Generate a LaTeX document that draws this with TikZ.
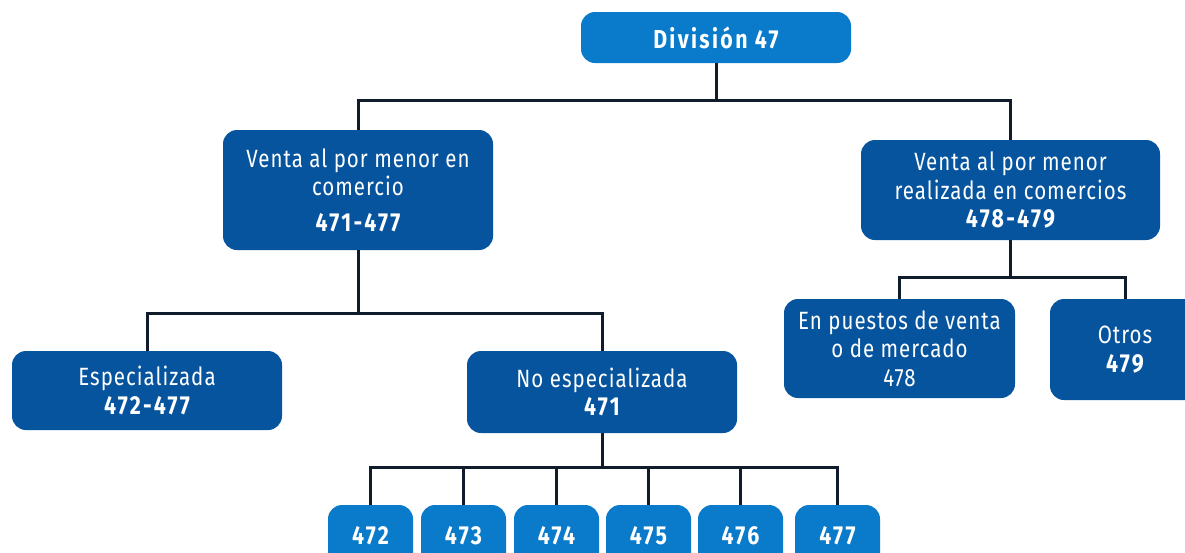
\documentclass[tikz,border=0pt]{standalone}
\usepackage{fontspec}
\setmainfont[FakeStretch=0.82,LetterSpace=4]{Fira Sans}
\newfontfamily\numfont[FakeStretch=0.82,LetterSpace=9]{Fira Sans}
\newcommand\nb[1]{{\numfont\bfseries\fontsize{26}{28}\selectfont #1}}
\definecolor{lblue}{HTML}{0A7ACA}
\definecolor{dblue}{HTML}{06549E}
\definecolor{linec}{HTML}{101B2B}
\tikzset{
  box/.style={fill=dblue, rounded corners=14pt, text=white, align=center, inner sep=0pt,
              font=\fontsize{25}{28.5}\selectfont},
  lbox/.style={box, fill=lblue},
  numbox/.style={lbox, minimum width=85pt, minimum height=62pt},
  conn/.style={draw=linec, line width=3pt}
}
\begin{document}
\begin{tikzpicture}[x=1pt,y=-1pt]
\useasboundingbox (0,0) rectangle (1185,552);
\clip (0,0) rectangle (1185,552);
% nodes
\node[lbox, minimum width=270pt, minimum height=51pt] (div) at (716,37.5) {\nb{División 47}};
\node[box, minimum width=270pt, minimum height=120pt] (vc) at (358,190) {Venta al por menor en\\comercio\\[7pt]\nb{471-477}};
\node[box, minimum width=299pt, minimum height=100pt] (vr) at (1010.5,190) {Venta al por menor\\realizada en comercios\\\nb{478-479}};
\node[box, minimum width=270pt, minimum height=79pt] (esp) at (147,390.5) {Especializada\\\nb{472-477}};
\node[box, minimum width=270pt, minimum height=82pt] (noesp) at (602,392) {No especializada\\\nb{471}};
\node[box, minimum width=231pt, minimum height=99pt] (pue) at (899.5,348.5) {En puestos de venta\\o de mercado\\478};
\node[box, minimum width=150pt, minimum height=101pt] (otr) at (1125,349.5) {Otros\\\nb{479}};
\node[numbox] (n2) at (370.5,536) {\nb{472}};
\node[numbox] (n3) at (463.5,536) {\nb{473}};
\node[numbox] (n4) at (556.5,536) {\nb{474}};
\node[numbox] (n5) at (648.5,536) {\nb{475}};
\node[numbox] (n6) at (740.5,536) {\nb{476}};
\node[numbox] (n7) at (837.5,536) {\nb{477}};
% connectors
\draw[conn] (div.south) -- ++(0,37) coordinate (j1);
\draw[conn] (vc.north) |- (j1) -| (vr.north);
\draw[conn] (vc.south) -- ++(0,63) coordinate (j2);
\draw[conn] (esp.north) |- (j2) -| (noesp.north);
\draw[conn] (noesp.south) -- ++(0,34) coordinate (j3);
\draw[conn] (n2.north) |- (j3) -| (n7.north);
\draw[conn] (n3.north) -- (n3.north |- j3);
\draw[conn] (n4.north) -- (n4.north |- j3);
\draw[conn] (n5.north) -- (n5.north |- j3);
\draw[conn] (n6.north) -- (n6.north |- j3);
\draw[conn] (vr.south) -- ++(0,37) coordinate (j4);
\draw[conn] (pue.north) |- (j4) -| (otr.north);
\end{tikzpicture}
\end{document}
